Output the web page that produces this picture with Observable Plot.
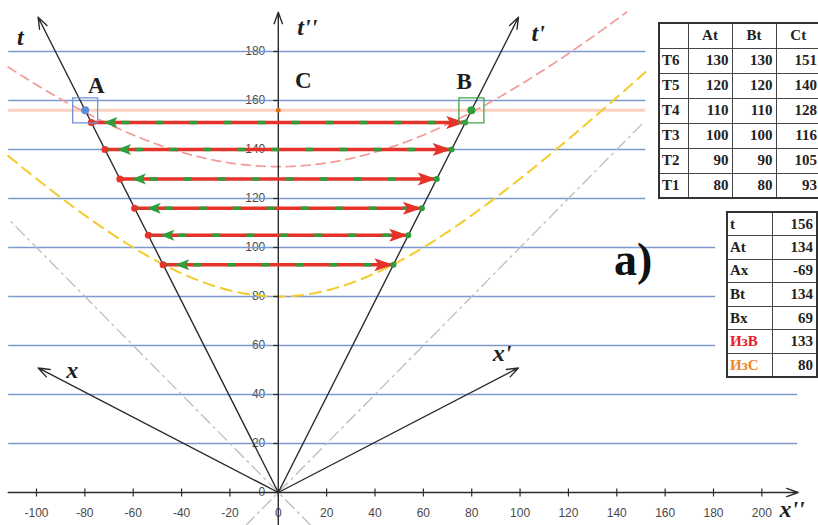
<!DOCTYPE html>
<html><head><meta charset="utf-8">
<script src="https://cdn.jsdelivr.net/npm/d3@7"></script>
<script src="https://cdn.jsdelivr.net/npm/@observablehq/plot@0.6"></script>
<style>
body{margin:0;background:#fff;overflow:hidden}
#wrap{position:relative;width:818px;height:525px;overflow:hidden;background:#fff}
#wrap svg{position:absolute;left:0;top:0}
table{position:absolute;border-collapse:collapse;table-layout:fixed;font-family:"Liberation Serif","Times New Roman",serif;font-weight:bold;font-size:15px;color:#222;border:2px solid #333}
td{border:1px solid #444;padding:0 3px;line-height:1;box-sizing:border-box}
#t1 td{height:25px;text-align:right}
#t1 tr.hd td{text-align:center}
#t1 td:first-child{text-align:left;padding:0 2px}
#t2 td{height:23.6px;text-align:right}
#t2 td:first-child{text-align:left;padding:0 2px}
#lbl{position:absolute;left:614px;top:233px;font-family:"Liberation Serif",serif;font-weight:bold;font-size:46px;color:#111}
</style></head>
<body><div id="wrap"></div>
<script>
// ---- data ----
const colHeaders = ["", "At", "Bt", "Ct"];
const rowLabels = ["T6", "T5", "T4", "T3", "T2", "T1"];
const atVals = [130, 120, 110, 100, 90, 80];
const btVals = [130, 120, 110, 100, 90, 80];
const ctVals = [151, 140, 128, 116, 105, 93];
const sumLabels = ["t", "At", "Ax", "Bt", "Bx", "ИзB", "ИзC"];
const sumVals = [156, 134, -69, 134, 69, 133, 80];
const sumColors = ["#222", "#222", "#222", "#222", "#222", "#e8202a", "#f0872a"];
const tTicks = [0, 20, 40, 60, 80, 100, 120, 140, 160, 180];
const xTicks = [-100, -80, -60, -40, -20, 0, 20, 40, 60, 80, 100, 120, 140, 160, 180, 200];
const gridT = [20, 40, 60, 80, 100, 120, 140, 160, 180];

// ---- derived geometry ----
const tEvent = sumVals[0];                  // 156
const v = Math.sqrt(1 - (sumVals[1] / tEvent) ** 2); // relative speed
const izB = sumVals[5], izC = sumVals[6];   // invariant intervals

// layout extents (data units)
const xLeft = -111.7, xTop = 151.8, xMid = 180.7, xRight = 214.6;
const gridEnd = t => t <= 40 ? xRight : t <= 100 ? xMid : xTop;
const grid = gridT.map(t => ({t, x1: xLeft, x2: gridEnd(t)}));

const rows = ctVals.map(c => ({t: c, xl: -v * c, xr: v * c}));
const A = {x: -v * tEvent, t: tEvent}, B = {x: v * tEvent, t: tEvent}, C = {x: 0, t: tEvent};

const hyper = (R, xEnd) => d3.range(xLeft, xEnd + 0.001, 1).concat([xEnd]).map(x => ({x, t: Math.sqrt(R * R + x * x)}));
const curveB = hyper(izB, 144);
const curveC = hyper(izC, 151.8);

const lightL = [{x: 13.5, t: -13.5}, {x: -112, t: 112}];
const lightR = [{x: -13.5, t: -13.5}, {x: 150.5, t: 150.5}];

const tLen = 194, xLen = 99.3;
const axes = [
  {x1: xLeft, t1: 0, x2: 215, t2: 0},
  {x1: 0, t1: -14, x2: 0, t2: 196},
  {x1: 0, t1: 0, x2: -v * tLen, t2: tLen},
  {x1: 0, t1: 0, x2: v * tLen, t2: tLen},
  {x1: 0, t1: 0, x2: -xLen, t2: v * xLen},
  {x1: 0, t1: 0, x2: xLen, t2: v * xLen}
];
const axisLabels = [
  {s: "t", x: -106.7, t: 185.7},
  {s: "t''", x: 12, t: 189.8},
  {s: "t'", x: 107.5, t: 187.3},
  {s: "x", x: -85.2, t: 49.8},
  {s: "x'", x: 92.6, t: 56.7},
  {s: "x''", x: 212.5, t: -6.8}
];
const pointLabels = [
  {s: "A", x: -75.3, t: 166.1},
  {s: "B", x: 76.9, t: 167.8},
  {s: "C", x: 10.3, t: 168.2}
];

const RED = "#e5332a", GREEN = "#2f9d3c", GRIDC = "#7d9ad0";
const headRight = {draw(ctx) { ctx.moveTo(0, 0); ctx.lineTo(-19, -6.5); ctx.lineTo(-15, 0); ctx.lineTo(-19, 6.5); ctx.closePath(); }};
const headLeft = {draw(ctx) { ctx.moveTo(0, 0); ctx.lineTo(14, -5.5); ctx.lineTo(11, 0); ctx.lineTo(14, 5.5); ctx.closePath(); }};
const yTickSym = {draw(ctx) { ctx.moveTo(-5, 0); ctx.lineTo(0, 0); }};
const xTickSym = {draw(ctx) { ctx.moveTo(0, -4); ctx.lineTo(0, 4); }};

const chart = Plot.plot({
  width: 818, height: 525, margin: 0,
  x: {domain: [-100, 180], range: [36, 713], axis: null},
  y: {domain: [0, 180], range: [492, 51], axis: null},
  style: {background: "transparent", fontFamily: "'Liberation Sans', Arial, sans-serif", overflow: "visible"},
  marks: [
    Plot.text(tTicks, {x: 0, y: d => d, text: d => String(d), dx: -13, textAnchor: "end", fontSize: 12, fill: "#4a4a4a"}),
    Plot.text(xTicks, {x: d => d, y: 0, text: d => String(d), dy: 21, fontSize: 12, fill: "#4a4a4a"}),
    Plot.link(grid, {x1: "x1", x2: "x2", y1: "t", y2: "t", stroke: GRIDC, strokeWidth: 1.3}),
    Plot.link([C], {x1: xLeft, x2: xTop, y1: "t", y2: "t", stroke: "#fbd0bf", strokeWidth: 3}),
    Plot.line(lightL, {x: "x", y: "t", stroke: "#bdbdbd", strokeWidth: 1.3, strokeDasharray: "12,5,2,5"}),
    Plot.line(lightR, {x: "x", y: "t", stroke: "#bdbdbd", strokeWidth: 1.3, strokeDasharray: "12,5,2,5"}),
    Plot.line(curveB, {x: "x", y: "t", stroke: "#f29a98", strokeWidth: 1.7, strokeDasharray: "9,6"}),
    Plot.line(curveC, {x: "x", y: "t", stroke: "#f3cb2a", strokeWidth: 2, strokeDasharray: "11,7"}),
    Plot.arrow(axes, {x1: "x1", y1: "t1", x2: "x2", y2: "t2", stroke: "#2b2b2b", strokeWidth: 1.4, headLength: 13, headAngle: 40}),
    Plot.dot(tTicks, {x: 0, y: d => d, symbol: yTickSym, stroke: "#2b2b2b", strokeWidth: 1.2}),
    Plot.dot(xTicks, {x: d => d, y: 0, symbol: xTickSym, stroke: "#2b2b2b", strokeWidth: 1.2}),
    Plot.link(rows, {x1: "xl", x2: "xr", y1: "t", y2: "t", stroke: RED, strokeWidth: 3.5}),
    Plot.link(rows, {x1: "xl", x2: "xr", y1: "t", y2: "t", stroke: GREEN, strokeWidth: 3.5, strokeDasharray: "8,26", strokeDashoffset: -30}),
    Plot.dot(rows, {x: "xl", y: "t", symbol: headLeft, fill: GREEN, dx: 12}),
    Plot.dot(rows, {x: "xl", y: "t", r: 3.5, fill: RED}),
    Plot.dot(rows, {x: "xr", y: "t", symbol: headRight, fill: RED}),
    Plot.dot(rows, {x: "xr", y: "t", r: 3, fill: GREEN}),
    Plot.dot([A], {x: "x", y: "t", symbol: "square", r: 14.1, stroke: "#6f93d3", strokeWidth: 1.3, fill: "none"}),
    Plot.dot([B], {x: "x", y: "t", symbol: "square", r: 14.1, stroke: "#3ea84a", strokeWidth: 1.3, fill: "none"}),
    Plot.dot([A], {x: "x", y: "t", r: 4, fill: "#5b8ed6"}),
    Plot.dot([B], {x: "x", y: "t", r: 4, fill: "#2f9d3c"}),
    Plot.dot([C], {x: "x", y: "t", r: 2.5, fill: "#e0701e"}),
    Plot.text(axisLabels, {x: "x", y: "t", text: "s", fontFamily: "'Liberation Serif', serif", fontStyle: "italic", fontWeight: "bold", fontSize: 24, fill: "#1e1e1e"}),
    Plot.text(pointLabels, {x: "x", y: "t", text: "s", fontFamily: "'Liberation Serif', serif", fontWeight: "bold", fontSize: 23, fill: "#1e1e1e"})
  ]
});

const wrap = document.getElementById("wrap");
wrap.appendChild(chart);

// table 1
const t1 = d3.select(wrap).append("table").attr("id", "t1")
  .style("left", "658px").style("top", "22px").style("width", "162px");
const cg = t1.append("colgroup");
[29, 44, 44, 45].forEach(w => cg.append("col").style("width", w + "px"));
const hr = t1.append("tr").attr("class", "hd");
colHeaders.forEach(h => hr.append("td").text(h));
rowLabels.forEach((r, i) => {
  const tr = t1.append("tr");
  tr.append("td").text(r);
  tr.append("td").text(atVals[i]);
  tr.append("td").text(btVals[i]);
  tr.append("td").text(ctVals[i]);
});

// table 2
const t2 = d3.select(wrap).append("table").attr("id", "t2")
  .style("left", "726px").style("top", "211px").style("width", "90px");
const cg2 = t2.append("colgroup");
[45, 45].forEach(w => cg2.append("col").style("width", w + "px"));
sumLabels.forEach((l, i) => {
  const tr = t2.append("tr");
  tr.append("td").text(l).style("color", sumColors[i]);
  tr.append("td").text(sumVals[i]);
});

d3.select(wrap).append("div").attr("id", "lbl").text("a)");
</script></body></html>
